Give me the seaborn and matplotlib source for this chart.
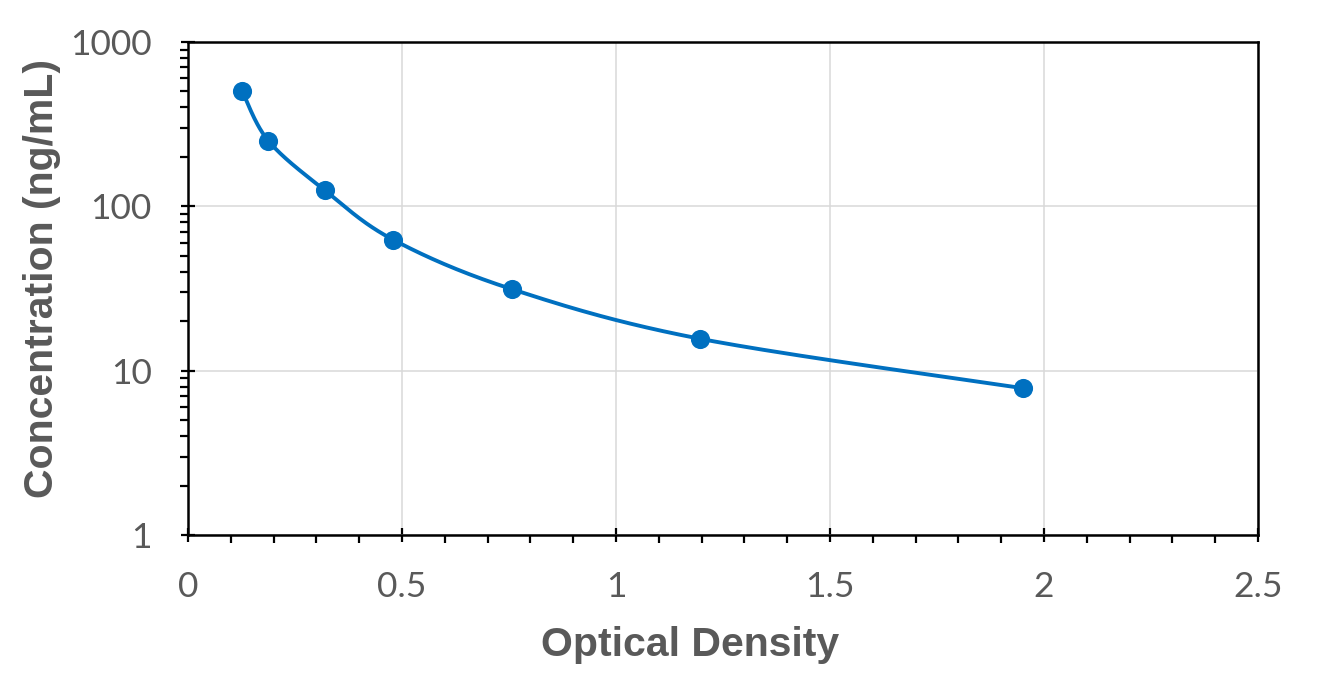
import numpy as np
import pandas as pd
import matplotlib
matplotlib.use("Agg")
import matplotlib.pyplot as plt
import seaborn as sns
from matplotlib.ticker import MultipleLocator, LogLocator, NullFormatter, FixedLocator

# ---- data ----
optical_density = [0.127, 0.188, 0.320, 0.480, 0.758, 1.197, 1.952]
concentration = [500, 250, 125, 62.5, 31.25, 15.625, 7.8125]
x_ticks = [0, 0.5, 1, 1.5, 2, 2.5]
x_tick_labels = ["0", "0.5", "1", "1.5", "2", "2.5"]
y_ticks = [1, 10, 100, 1000]
y_tick_labels = ["1", "10", "100", "1000"]
x_label = "Optical Density"
y_label = "Concentration (ng/mL)"

BLUE = "#0070C0"
GRAY = "#595959"

sns.set_theme(style="white")
plt.rcParams["font.family"] = ["Lato", "DejaVu Sans"]

fig = plt.figure(figsize=(13.25, 6.85), dpi=100)
ax = fig.add_axes([188 / 1325, 1 - 535 / 685, (1258 - 188) / 1325, (535 - 42) / 685])

# smoothed line (Catmull-Rom through the points, in display-like space x / log10 y)
px = np.array(optical_density) * 428.0
py = np.log10(np.array(concentration)) * 164.3
P = np.column_stack([px, py])
Pe = np.vstack([P[0], P, P[-1]])
seg = []
t = np.linspace(0, 1, 40)[:, None]
for i in range(1, len(Pe) - 2):
    p0, p1, p2, p3 = Pe[i - 1], Pe[i], Pe[i + 1], Pe[i + 2]
    c1 = p1 + (p2 - p0) / 6.0
    c2 = p2 - (p3 - p1) / 6.0
    b = ((1 - t) ** 3) * p1 + 3 * ((1 - t) ** 2) * t * c1 + 3 * (1 - t) * t ** 2 * c2 + t ** 3 * p2
    seg.append(b if i == 1 else b[1:])
curve = np.vstack(seg)
curve_df = pd.DataFrame({"x": curve[:, 0] / 428.0, "y": 10 ** (curve[:, 1] / 164.3)})

sns.lineplot(data=curve_df, x="x", y="y", sort=False, estimator=None, color=BLUE, lw=2.8, ax=ax)
pts = pd.DataFrame({"x": optical_density, "y": concentration})
sns.scatterplot(data=pts, x="x", y="y", color=BLUE, s=190, edgecolor=BLUE, linewidth=0, ax=ax, zorder=5)

ax.set_yscale("log")
ax.set_xlim(0, 2.5)
ax.set_ylim(1, 1000)

ax.xaxis.set_major_locator(FixedLocator(x_ticks))
ax.set_xticklabels(x_tick_labels)
ax.xaxis.set_minor_locator(MultipleLocator(0.1))
ax.yaxis.set_major_locator(FixedLocator(y_ticks))
ax.set_yticklabels(y_tick_labels)
ax.yaxis.set_minor_locator(LogLocator(base=10, subs=np.arange(2, 10)))
ax.yaxis.set_minor_formatter(NullFormatter())

ax.grid(True, which="major", color="#D9D9D9", lw=1.1)
ax.set_axisbelow(True)

for s in ax.spines.values():
    s.set_visible(True)
    s.set_color("black")
    s.set_linewidth(1.8)

ax.tick_params(which="major", direction="inout", length=10, width=1.6, color="black",
               labelsize=25.5, labelcolor=GRAY)
ax.tick_params(axis="x", which="major", pad=21)
ax.tick_params(axis="y", which="major", pad=21)
ax.tick_params(which="minor", direction="out", length=5.5, width=1.6, color="black")
ax.tick_params(left=True, bottom=True, which="both")

ax.set_xlabel(x_label, fontsize=29.5, fontweight="bold", color=GRAY, family=["Liberation Sans"], va="center")
ax.set_ylabel(y_label, fontsize=29.5, fontweight="bold", color=GRAY, family=["Liberation Sans"], va="center")
ax.xaxis.set_label_coords((690 - 188) / 1070, (535 - 645) / 493)
ax.yaxis.set_label_coords((42 - 188) / 1070, (535 - 278) / 493)

fig.savefig("out.png", dpi=100)
